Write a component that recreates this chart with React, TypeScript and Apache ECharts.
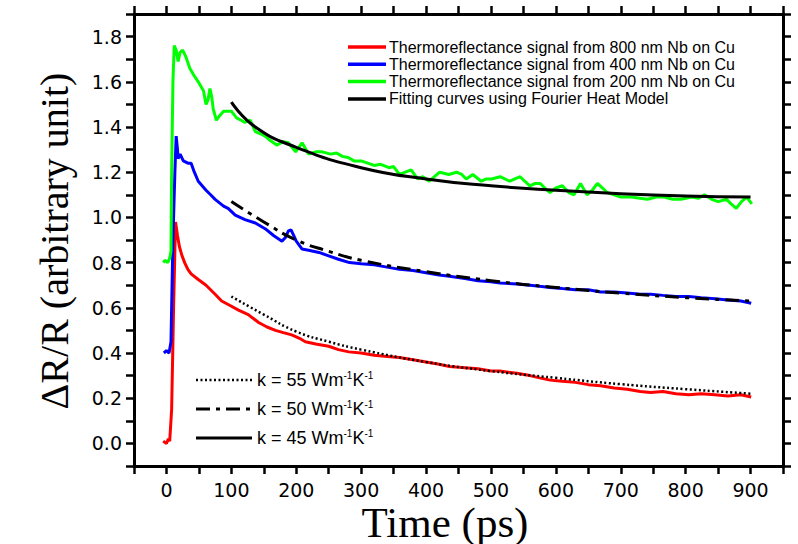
import React, { useEffect, useRef } from "react";
import * as echarts from "echarts";

const red800: number[][] = [
  [-5, 0.01], [0, 0.0], [3, 0.02], [5, 0.01], [8, 0.15], [11, 0.6], [14, 0.98], [17, 0.92], [20, 0.87], [24, 0.83],
  [28, 0.8], [33, 0.77], [38, 0.75], [49, 0.725], [61, 0.7], [75, 0.66], [85, 0.63], [98, 0.61], [111, 0.59],
  [126, 0.57], [142, 0.535], [155, 0.515], [168, 0.5], [180, 0.49], [193, 0.48], [205, 0.465], [214, 0.45],
  [230, 0.44], [250, 0.43], [265, 0.415], [281, 0.405], [300, 0.4], [320, 0.39], [340, 0.385], [359, 0.38],
  [380, 0.37], [400, 0.36], [420, 0.35], [436, 0.34], [460, 0.335], [480, 0.33], [500, 0.32], [514, 0.32],
  [540, 0.31], [560, 0.3], [575, 0.29], [591, 0.28], [610, 0.275], [630, 0.27], [650, 0.26], [669, 0.255],
  [690, 0.245], [710, 0.24], [730, 0.23], [746, 0.225], [765, 0.23], [785, 0.22], [805, 0.215], [824, 0.22],
  [845, 0.215], [865, 0.21], [885, 0.215], [901, 0.205],
];

const blue400: number[][] = [
  [-4, 0.4], [0, 0.41], [4, 0.4], [7, 0.45], [10, 0.9], [13, 1.2], [15, 1.36], [17, 1.3], [18, 1.26], [21, 1.28],
  [26, 1.25], [33, 1.24], [38, 1.24], [43, 1.2], [49, 1.16], [55, 1.14], [61, 1.12], [68, 1.1], [75, 1.08],
  [88, 1.05], [95, 1.04], [106, 1.01], [121, 0.99], [137, 0.975], [152, 0.95], [165, 0.92], [178, 0.895],
  [183, 0.91], [188, 0.94], [192, 0.945], [196, 0.92], [200, 0.895], [209, 0.86], [219, 0.855], [235, 0.845],
  [250, 0.83], [265, 0.815], [282, 0.8], [300, 0.795], [320, 0.79], [340, 0.78], [359, 0.77], [380, 0.765],
  [400, 0.755], [420, 0.745], [436, 0.74], [460, 0.73], [480, 0.72], [500, 0.715], [514, 0.71], [540, 0.705],
  [560, 0.7], [575, 0.695], [591, 0.69], [610, 0.685], [630, 0.68], [650, 0.68], [669, 0.67], [690, 0.67],
  [710, 0.665], [730, 0.66], [746, 0.66], [765, 0.655], [785, 0.65], [805, 0.65], [824, 0.645], [845, 0.64],
  [865, 0.635], [885, 0.63], [901, 0.62],
];

const green200: number[][] = [
  [-5, 0.8], [-2, 0.81], [2, 0.8], [5, 0.82], [7, 0.85], [8, 1.2], [10, 1.6], [12, 1.76], [15, 1.74], [18, 1.69],
  [21, 1.73], [25, 1.74], [30, 1.71], [36, 1.66], [42, 1.63], [49, 1.6], [57, 1.56], [61, 1.5], [64, 1.52],
  [67, 1.57], [70, 1.53], [72, 1.48], [77, 1.43], [82, 1.45], [88, 1.47], [100, 1.47], [108, 1.44], [115, 1.43],
  [121, 1.42], [129, 1.43], [137, 1.38], [145, 1.37], [152, 1.36], [160, 1.34], [170, 1.32], [180, 1.335],
  [188, 1.33], [199, 1.29], [209, 1.33], [219, 1.28], [230, 1.29], [240, 1.29], [253, 1.28], [262, 1.285],
  [271, 1.27], [280, 1.265], [289, 1.25], [300, 1.25], [310, 1.24], [320, 1.23], [330, 1.235], [343, 1.22],
  [350, 1.225], [359, 1.19], [368, 1.2], [377, 1.21], [387, 1.17], [395, 1.18], [405, 1.16], [413, 1.18],
  [421, 1.2], [435, 1.19], [447, 1.2], [455, 1.19], [462, 1.17], [472, 1.19], [485, 1.16], [493, 1.17],
  [501, 1.17], [514, 1.18], [529, 1.16], [537, 1.17], [545, 1.18], [552, 1.16], [560, 1.14], [568, 1.15],
  [576, 1.15], [583, 1.13], [591, 1.11], [600, 1.13], [610, 1.14], [620, 1.11], [628, 1.1], [638, 1.15],
  [648, 1.1], [656, 1.12], [664, 1.15], [672, 1.13], [679, 1.11], [690, 1.1], [700, 1.09], [716, 1.09],
  [730, 1.085], [741, 1.08], [755, 1.09], [767, 1.09], [780, 1.08], [793, 1.08], [809, 1.09], [820, 1.085],
  [829, 1.1], [840, 1.08], [850, 1.07], [863, 1.08], [870, 1.06], [878, 1.04], [886, 1.07], [894, 1.09],
  [902, 1.06],
];

const fitK55: number[][] = [
  [100, 0.65], [150, 0.57], [200, 0.495], [250, 0.45], [300, 0.415], [400, 0.36], [500, 0.32], [600, 0.29],
  [700, 0.262], [800, 0.24], [900, 0.22],
];
const fitK50: number[][] = [
  [100, 1.07], [150, 0.98], [200, 0.9], [250, 0.85], [300, 0.81], [400, 0.76], [500, 0.72], [600, 0.69],
  [700, 0.665], [800, 0.645], [900, 0.63],
];
const fitK45: number[][] = [
  [100, 1.51], [137, 1.4], [200, 1.31], [300, 1.22], [400, 1.17], [500, 1.14], [600, 1.12], [700, 1.105],
  [800, 1.095], [900, 1.09],
];

const legendNames = [
  "Thermoreflectance signal from 800 nm Nb on Cu",
  "Thermoreflectance signal from 400 nm Nb on Cu",
  "Thermoreflectance signal from 200 nm Nb on Cu",
  "Fitting curves using Fourier Heat Model",
];
const kLabels = ["55", "50", "45"];

const xTickLabels = ["0", "100", "200", "300", "400", "500", "600", "700", "800", "900"];
const yTickLabels = ["0.0", "0.2", "0.4", "0.6", "0.8", "1.0", "1.2", "1.4", "1.6", "1.8"];

export default function App() {
  const ref = useRef<HTMLDivElement>(null);
  useEffect(() => {
    if (!ref.current) return;
    const chart = echarts.init(ref.current, null, { renderer: "svg" });
    const axisLine = { show: true, onZero: false, lineStyle: { color: "#000", width: 3 } };
    const tick = { show: true, inside: false, length: 8, lineStyle: { color: "#000", width: 2.5 } };
    const tickFont = { fontFamily: "DejaVu Sans", fontSize: 19, color: "#000" };
    const kLegendY = [380, 409, 438];
    const kTypes: any[] = [[2, 2.5], [14, 6, 4, 6], "solid"];
    const graphic: any[] = [
      {
        type: "text",
        x: 445,
        y: 522,
        style: { text: "Time (ps)", fontFamily: "Liberation Serif", fontSize: 43, fill: "#000", align: "center", verticalAlign: "middle" },
      },
      {
        type: "text",
        x: 54,
        y: 241,
        rotation: Math.PI / 2,
        style: { text: "ΔR/R (arbitrary unit)", fontFamily: "Liberation Serif", fontSize: 40, fill: "#000", align: "center", verticalAlign: "middle" },
      },
    ];
    kLabels.forEach((k, i) => {
      graphic.push({
        type: "line",
        shape: { x1: 196, y1: kLegendY[i], x2: 252, y2: kLegendY[i] },
        style: { stroke: "#000", lineWidth: i === 0 ? 2.5 : 3, lineDash: kTypes[i] === "solid" ? null : kTypes[i] },
      });
      graphic.push({
        type: "text",
        x: 257,
        y: kLegendY[i],
        style: {
          text: `{a|k = ${k} Wm}{s|-1}{a|K}{s|-1}`,
          verticalAlign: "middle",
          rich: {
            a: { fontFamily: "Liberation Sans", fontSize: 18, fill: "#000", lineHeight: 20 },
            s: { fontFamily: "Liberation Sans", fontSize: 10, fill: "#000", lineHeight: 10, verticalAlign: "top", padding: [0, 0, 10, 0] },
          },
        },
      });
    });

    chart.setOption({
      animation: false,
      backgroundColor: "#fff",
      grid: { left: 134, right: 15, top: 14, bottom: 78 },
      legend: {
        orient: "vertical",
        left: 348,
        top: 39,
        padding: 0,
        icon: "rect",
        itemWidth: 38,
        itemHeight: 3.5,
        itemGap: 1.3,
        data: legendNames,
        textStyle: { fontFamily: "Liberation Sans", fontSize: 16, color: "#000", lineHeight: 14, padding: [0, 0, 0, -2] },
      },
      xAxis: [
        {
          type: "value",
          min: -50,
          max: 950,
          interval: 50,
          position: "bottom",
          axisLine,
          axisTick: tick,
          splitLine: { show: false },
          axisLabel: {
            ...tickFont,
            margin: 14,
            formatter: (v: number) => {
              const s = String(Math.round(v));
              return xTickLabels.includes(s) ? s : "";
            },
          },
        },
        {
          type: "value",
          min: -50,
          max: 950,
          interval: 50,
          position: "top",
          axisLine,
          axisTick: tick,
          splitLine: { show: false },
          axisLabel: { show: false },
        },
      ],
      yAxis: [
        {
          type: "value",
          min: -0.1,
          max: 1.9,
          interval: 0.1,
          position: "left",
          axisLine,
          axisTick: tick,
          splitLine: { show: false },
          axisLabel: {
            ...tickFont,
            margin: 12,
            formatter: (v: number) => {
              const s = v.toFixed(1);
              return yTickLabels.includes(s) ? s : "";
            },
          },
        },
        {
          type: "value",
          min: -0.1,
          max: 1.9,
          interval: 0.1,
          position: "right",
          axisLine,
          axisTick: tick,
          splitLine: { show: false },
          axisLabel: { show: false },
        },
      ],
      series: [
        { name: legendNames[0], type: "line", data: red800, symbol: "none", lineStyle: { color: "#ff0000", width: 3 }, itemStyle: { color: "#ff0000" } },
        { name: legendNames[1], type: "line", data: blue400, symbol: "none", lineStyle: { color: "#0000ff", width: 3 }, itemStyle: { color: "#0000ff" } },
        { name: legendNames[2], type: "line", data: green200, symbol: "none", lineStyle: { color: "#00ff00", width: 3 }, itemStyle: { color: "#00ff00" } },
        { name: legendNames[3], type: "line", data: fitK45, smooth: true, symbol: "none", lineStyle: { color: "#000", width: 3 }, itemStyle: { color: "#000" } },
        { name: "k = 50", type: "line", data: fitK50, smooth: true, symbol: "none", lineStyle: { color: "#000", width: 3, type: [14, 6, 4, 6] }, itemStyle: { color: "#000" } },
        { name: "k = 55", type: "line", data: fitK55, smooth: true, symbol: "none", lineStyle: { color: "#000", width: 2.5, type: [2, 2.5] }, itemStyle: { color: "#000" } },
      ],
      graphic,
    });
    return () => chart.dispose();
  }, []);
  return <div ref={ref} style={{ position: "fixed", left: 0, top: 0, width: 798, height: 544 }} />;
}
